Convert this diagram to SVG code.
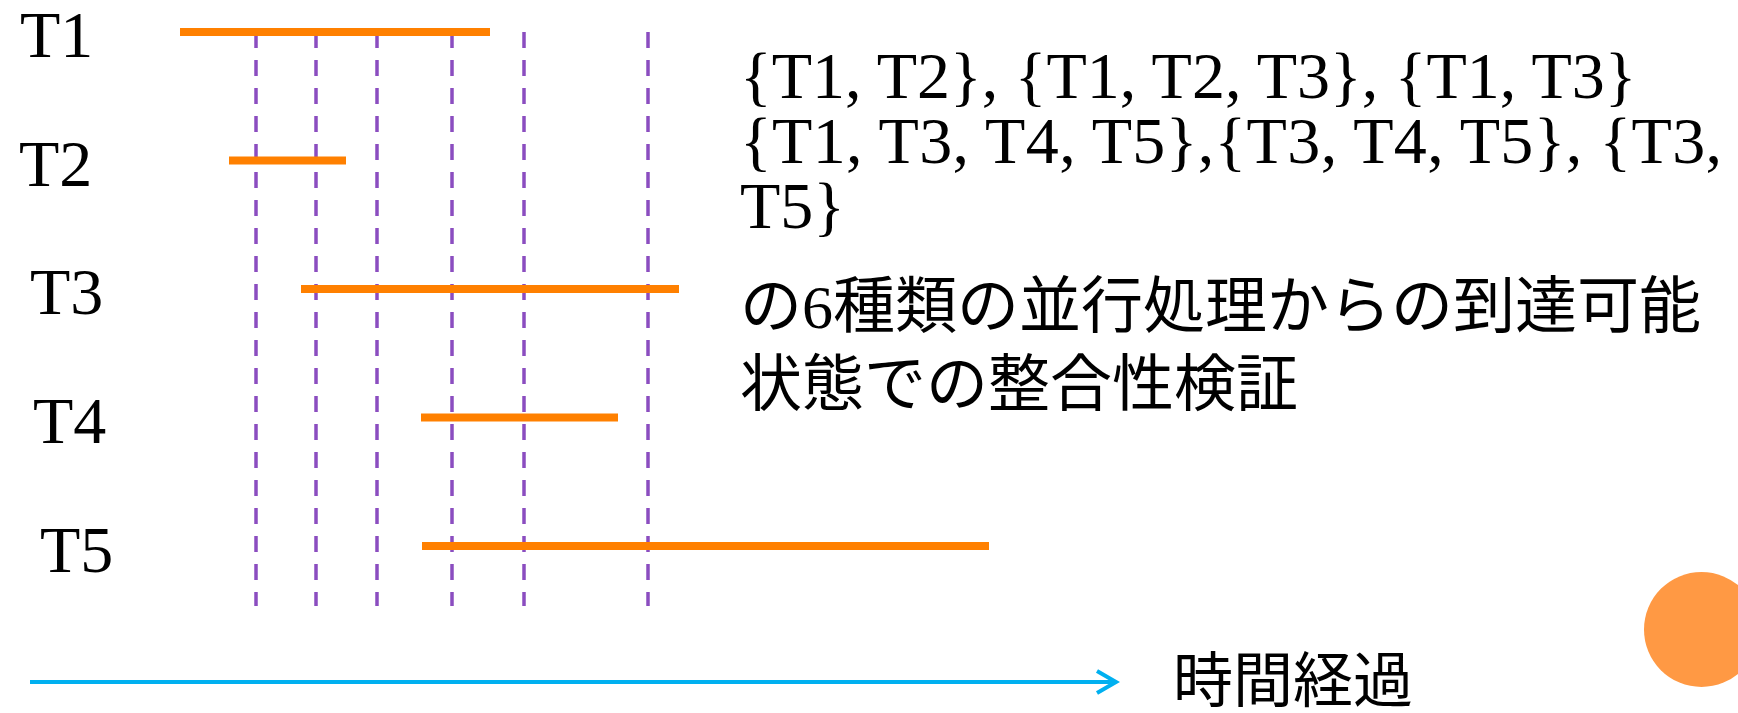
<svg xmlns="http://www.w3.org/2000/svg" width="1738" height="713" viewBox="0 0 1738 713">
  <defs>
    <style>
      .lbl { font-family: "Liberation Serif", "DejaVu Serif", serif; font-size: 66px; fill: #000; }
      .jp { font-family: "Liberation Serif", "Noto Sans CJK JP", sans-serif; font-size: 62px; fill: #000; }
      .bar { stroke: #FF8000; stroke-width: 8; fill: none; }
      .dash { stroke: #8B4DC0; stroke-width: 3.5; stroke-dasharray: 16 12; fill: none; }
      .time { stroke: #00B0F0; stroke-width: 4; fill: none; }
    </style>
  </defs>
  <rect width="1738" height="713" fill="#FFFFFF"/>

  <g id="guides">
    <line class="dash" x1="256" y1="32" x2="256" y2="606"/>
    <line class="dash" x1="316" y1="32" x2="316" y2="606"/>
    <line class="dash" x1="377" y1="32" x2="377" y2="606"/>
    <line class="dash" x1="452" y1="32" x2="452" y2="606"/>
    <line class="dash" x1="524" y1="32" x2="524" y2="606"/>
    <line class="dash" x1="648" y1="32" x2="648" y2="606"/>
  </g>

  <g id="T1">
    <text class="lbl" x="20" y="57">T1</text>
    <line class="bar" x1="180" y1="32" x2="490" y2="32"/>
  </g>
  <g id="T2">
    <text class="lbl" x="19" y="186">T2</text>
    <line class="bar" x1="229" y1="160.5" x2="346" y2="160.5"/>
  </g>
  <g id="T3">
    <text class="lbl" x="30" y="314">T3</text>
    <line class="bar" x1="301" y1="289" x2="679" y2="289"/>
  </g>
  <g id="T4">
    <text class="lbl" x="33" y="443">T4</text>
    <line class="bar" x1="421" y1="417.5" x2="618" y2="417.5"/>
  </g>
  <g id="T5">
    <text class="lbl" x="40" y="572">T5</text>
    <line class="bar" x1="422" y1="546" x2="989" y2="546"/>
  </g>

  <g id="description">
    <text class="lbl" x="740" y="98">{T1, T2}, {T1, T2, T3}, {T1, T3}</text>
    <text class="lbl" x="740" y="163" textLength="982" lengthAdjust="spacing">{T1, T3, T4, T5},{T3, T4, T5}, {T3,</text>
    <text class="lbl" x="740" y="228">T5}</text>
    <text class="jp" x="740" y="328">の6種類の並行処理からの到達可能</text>
    <text class="jp" x="740" y="406">状態での整合性検証</text>
  </g>

  <g id="connectors">
    <line class="time" x1="30" y1="682" x2="1115" y2="682"/>
    <polyline class="time" points="1097,671 1116,682 1097,693" stroke-linejoin="miter"/>
  </g>

  <g id="time-label">
    <text class="jp" x="1173" y="702" style="font-size:60px">時間経過</text>
  </g>

  <g id="decor">
    <circle cx="1701.5" cy="629.5" r="57.5" fill="#FF9944"/>
  </g>
</svg>
